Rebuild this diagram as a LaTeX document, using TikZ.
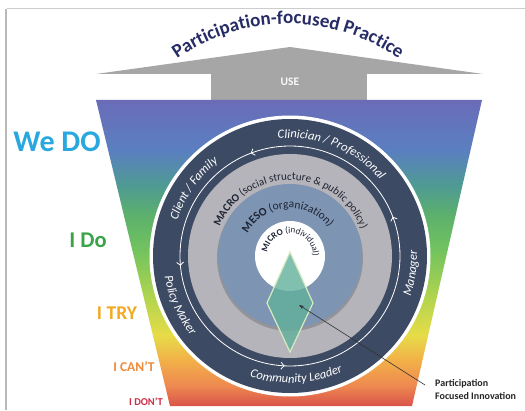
\documentclass[tikz,border=0pt]{standalone}
\usepackage{fontspec}
\setmainfont{Carlito}
\usetikzlibrary{decorations.text,decorations.markings,arrows.meta}
\definecolor{f1}{HTML}{D9534A}
\definecolor{f2}{HTML}{EE8A50}
\definecolor{f3}{HTML}{F2B048}
\definecolor{f4}{HTML}{E6DC48}
\definecolor{f5}{HTML}{B5D54E}
\definecolor{f6}{HTML}{72C35E}
\definecolor{f7}{HTML}{5CB06C}
\definecolor{f8}{HTML}{4F9A94}
\definecolor{f9}{HTML}{5A7FC0}
\definecolor{f10}{HTML}{6A6CB8}
\definecolor{roofgray}{HTML}{A6A6A6}
\definecolor{ringdark}{HTML}{3C4A63}
\definecolor{macrogray}{HTML}{B5B4BA}
\definecolor{mesoblue}{HTML}{7D94B3}
\definecolor{diamondfill}{HTML}{62B09C}
\definecolor{diamondedge}{HTML}{D6EBC2}
\definecolor{titlecol}{HTML}{272C66}
\definecolor{wedocol}{HTML}{29A8E0}
\definecolor{idocol}{HTML}{3BA449}
\definecolor{itrycol}{HTML}{F2AA22}
\definecolor{icantcol}{HTML}{EF8B3B}
\definecolor{idontcol}{HTML}{CD2E47}
\definecolor{innertext}{HTML}{1E2433}
\pgfdeclareverticalshading{funnelshade}{100bp}{color(0bp)=(f1); color(25bp)=(f1); color(28.4bp)=(f2); color(32.5bp)=(f3); color(36.6bp)=(f4); color(42.3bp)=(f5); color(50.5bp)=(f6); color(56.2bp)=(f7); color(61.1bp)=(f8); color(66.8bp)=(f9); color(75bp)=(f10); color(100bp)=(f10)}
\begin{document}
\begin{tikzpicture}[x=1pt,y=1pt,
  ringtxt/.style={decorate, decoration={text along path, text align=center, text={#1}}},
  levellabel/.style={font=\bfseries\fontsize{#1}{#1}\selectfont, inner sep=0pt},
  chev/.style={white, line width=0.8pt},
]
\useasboundingbox (0,0) rectangle (525,410);
\fill[white] (0,0) rectangle (525,410);
% frame
\draw[gray!40, line width=1pt] (7,401) -- (525,401);
\draw[gray!55, line width=1.6pt] (6,0) -- (6,401);
% roof arrow
\fill[roofgray] (96,336) -- (290,363) -- (483,336) -- cycle;
\fill[roofgray] (211,337) rectangle (367,310);
\node[font=\bfseries\fontsize{11.5}{11.5}\selectfont, text=white!95!gray] (use) at (290,328) {USE};
% title
\path[ringtxt={|\fontsize{19}{19}\selectfont\bfseries\color{titlecol}|Participation-focused Practice}] ([shift={(150:193pt)}]288,193) arc[start angle=150, end angle=30, radius=193pt];
% funnel
\shade[shading=funnelshade] (96,310) -- (482,310) -- (412,4) -- (170,4) -- cycle;
% level labels
\node[levellabel=30, text=wedocol] (wedo) at (57,268) {We DO};
\node[levellabel=22.5, text=idocol] (ido) at (88,170) {I Do};
\node[levellabel=19.5, text=itrycol] (itry) at (117,97) {I TRY};
\node[levellabel=13.5, text=icantcol] (icant) at (134,43) {I CAN'T};
\node[levellabel=10.5, text=idontcol] (idont) at (146,8) {I DON'T};
% circles
\coordinate (c) at (290,154);
\fill[white] (c) circle[radius=140.5pt];
\fill[ringdark] (c) circle[radius=137pt];
\fill[macrogray] (c) circle[radius=102pt];
\fill[black, opacity=0.18] ([yshift=-2pt]c) circle[radius=73pt];
\fill[mesoblue] (c) circle[radius=72pt];
\fill[white] (c) circle[radius=35pt];
% arrow circle
\draw[chev, decoration={markings,
   mark=at position 0.058 with {\arrow{Straight Barb[length=3pt,width=7pt]}},
   mark=at position 0.308 with {\arrow{Straight Barb[length=3pt,width=7pt]}},
   mark=at position 0.514 with {\arrow{Straight Barb[length=3pt,width=7pt]}},
   mark=at position 0.742 with {\arrow{Straight Barb[length=3pt,width=7pt]}}},
   postaction={decorate}] ([shift={(0:110pt)}]c) arc[start angle=0, end angle=360, radius=110pt];
% ring labels
\path[ringtxt={|\fontsize{12.5}{12.5}\selectfont\itshape\color{white}|Clinician / Professional}] ([shift={(115:118pt)}]c) arc[start angle=115, end angle=21, radius=118pt];
\path[ringtxt={|\fontsize{12.5}{12.5}\selectfont\itshape\color{white}|Client / Family}] ([shift={(175:118pt)}]c) arc[start angle=175, end angle=115, radius=118pt];
\path[ringtxt={|\fontsize{12.5}{12.5}\selectfont\itshape\color{white}|Manager}] ([shift={(-38:127pt)}]c) arc[start angle=-38, end angle=22, radius=127pt];
\path[ringtxt={|\fontsize{12.5}{12.5}\selectfont\itshape\color{white}|Policy Maker}] ([shift={(170:127pt)}]c) arc[start angle=170, end angle=238, radius=127pt];
\path[ringtxt={|\fontsize{12.5}{12.5}\selectfont\itshape\color{white}|Community Leader}] ([shift={(240:127pt)}]c) arc[start angle=240, end angle=306, radius=127pt];
% inner labels
\path[ringtxt={|\fontsize{11}{11}\selectfont\color{innertext}\bfseries|MACRO|\fontsize{11}{11}\selectfont\color{innertext}\mdseries| (social structure {\&} public policy)}] ([shift={(178:76pt)}]c) arc[start angle=178, end angle=0, radius=76pt];
\path[ringtxt={|\fontsize{11.5}{11.5}\selectfont\color{innertext}\bfseries|MESO|\fontsize{11.5}{11.5}\selectfont\color{innertext}\mdseries| (organization)}] ([shift={(170:48pt)}]c) arc[start angle=170, end angle=18, radius=48pt];
\path[ringtxt={|\fontsize{9}{9}\selectfont\color{innertext}\bfseries|MICRO|\fontsize{9}{9}\selectfont\color{innertext}\mdseries| (individual)}] ([shift={(190:23pt)}]c) arc[start angle=190, end angle=-20, radius=23pt];
% diamond
\filldraw[draw=diamondedge, fill=diamondfill, fill opacity=0.8, line width=1.2pt] (290,158) -- (313,107) -- (290,58) -- (267,107) -- cycle;
\coordinate (innov) at (299,105);
% callout
\node[font=\bfseries\fontsize{10}{13}\selectfont, align=left, anchor=north west, inner sep=0pt, text=black!85] (lbl) at (435,31) {Participation\\Focused Innovation};
\coordinate (tail) at (425,25);
\draw[-{Stealth[length=5pt,width=3.5pt]}, line width=0.6pt, black!80] (tail) -- (innov);
\end{tikzpicture}
\end{document}
